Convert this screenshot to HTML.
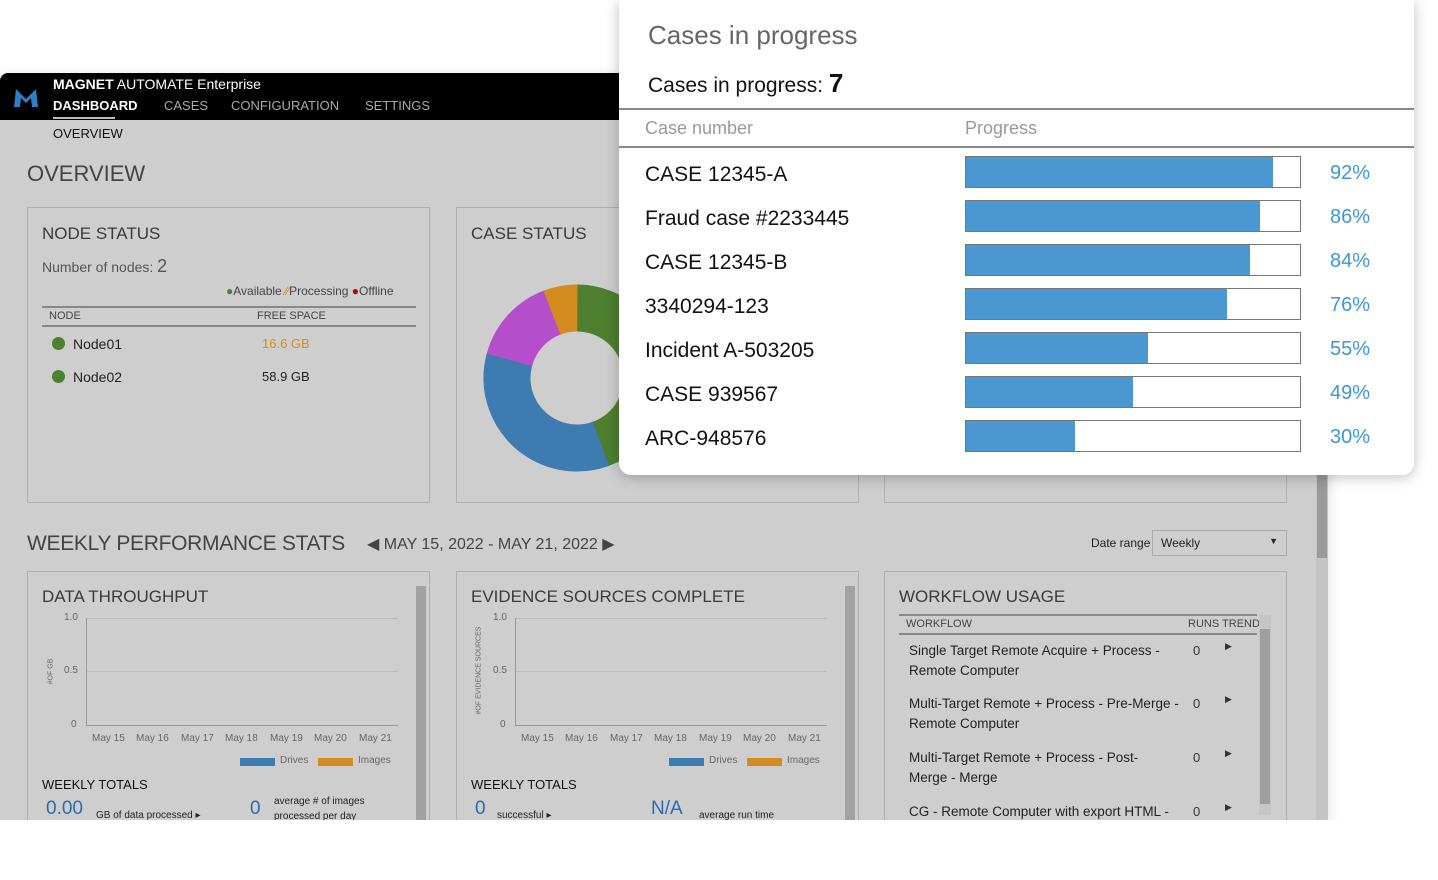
<!DOCTYPE html>
<html><head><meta charset="utf-8"><style>
*{box-sizing:border-box;margin:0;padding:0}
body{width:1438px;height:880px;background:#fff;position:relative;overflow:hidden;font-family:"Liberation Sans",sans-serif;color:#333}
.abs{position:absolute}
#win{position:absolute;left:0;top:73px;width:1328px;height:747px;background:#cecece;border-radius:8px 0 0 0;overflow:hidden;box-shadow:0 4px 14px rgba(0,0,0,.15)}
#hdr{position:absolute;left:0;top:0;width:1328px;height:47px;background:#000}
.panel{position:absolute;border:1px solid #b0b0b0;background:#cecece}
.ttl{position:absolute;font-size:17px;color:#3a3a3a}
.sm{font-size:11px;color:#444}
#pop{position:absolute;left:619px;top:0;width:795px;height:475px;background:#fff;border-radius:0 0 12px 12px;box-shadow:0 2px 14px rgba(0,0,0,.25)}
.row{position:absolute;left:26px;font-size:21px;color:#111}
.bar{position:absolute;left:346px;width:336px;height:32px;border:1.5px solid #777;background:#fff}
.bar i{display:block;height:100%;background:#4a97d2}
.pct{position:absolute;left:711px;font-size:20px;color:#3d97d6}
.ax{position:absolute;font-size:10px;color:#666}
.xl span{position:absolute;top:0;white-space:nowrap}
</style></head><body>
<div id="win">
 <div id="hdr">
  <svg class="abs" style="left:12px;top:12px" width="28" height="24"><path d="M2 22 L4 4 L14 14 L24 4 L26 22 L20 22 L19 13 L14 18 L9 13 L8 22Z" fill="#2f7fc4"/></svg>
  <div class="abs" style="left:53px;top:3px;color:#fff;font-size:14px"><b style="font-weight:600">MAGNET</b> AUTOMATE Enterprise</div>
  <div class="abs" style="left:53px;top:25px;color:#fff;font-size:13px;font-weight:bold">DASHBOARD</div>
  <div class="abs" style="left:53px;top:44px;width:62px;height:2px;background:#bbb"></div>
  <div class="abs" style="left:164px;top:25px;color:#aaa;font-size:13px">CASES</div>
  <div class="abs" style="left:231px;top:25px;color:#aaa;font-size:13px">CONFIGURATION</div>
  <div class="abs" style="left:365px;top:25px;color:#aaa;font-size:13px">SETTINGS</div>
 </div>
 <div class="abs" style="left:53px;top:53px;font-size:13px;color:#111">OVERVIEW</div>
 <div class="abs" style="left:27px;top:88px;font-size:22px;color:#444">OVERVIEW</div>
 <div class="abs" style="left:1316px;top:0;width:12px;height:747px;background:#c4c4c4"></div>
 <div class="abs" style="left:1317px;top:400px;width:10px;height:85px;background:#9a9a9a"></div>
</div>

<!-- node status -->
<div class="panel" style="left:27px;top:207px;width:403px;height:296px">
 <div class="ttl" style="left:14px;top:16px">NODE STATUS</div>
 <div class="abs" style="left:14px;top:48px;font-size:14px;color:#555">Number of nodes: <span style="font-size:18px">2</span></div>
 <div class="abs" style="left:198px;top:76px;font-size:12px;color:#444"><span style="color:#4f7f31">●</span>Available <span style="color:#d48b1f">⁄⁄</span>Processing <span style="color:#b00">●</span>Offline</div>
 <div class="abs" style="left:14px;top:98px;width:374px;height:2px;background:#888"></div>
 <div class="abs sm" style="left:21px;top:102px">NODE</div>
 <div class="abs sm" style="left:229px;top:102px">FREE SPACE</div>
 <div class="abs" style="left:14px;top:117px;width:374px;height:2px;background:#888"></div>
 <div class="abs" style="left:24px;top:129px;width:13px;height:13px;border-radius:50%;background:#4f7f31"></div>
 <div class="abs" style="left:45px;top:128px;font-size:14px;color:#222">Node01</div>
 <div class="abs" style="left:234px;top:128px;font-size:13px;color:#d48b1f">16.6 GB</div>
 <div class="abs" style="left:24px;top:162px;width:13px;height:13px;border-radius:50%;background:#4f7f31"></div>
 <div class="abs" style="left:45px;top:161px;font-size:14px;color:#222">Node02</div>
 <div class="abs" style="left:234px;top:161px;font-size:13px;color:#222">58.9 GB</div>
</div>
<!-- case status -->
<div class="panel" style="left:456px;top:207px;width:403px;height:296px">
 <div class="ttl" style="left:14px;top:16px">CASE STATUS</div>
 <svg class="abs" style="left:25px;top:75px" width="190" height="190" viewBox="-95 -95 190 190">
  <g fill="none" stroke-width="47">
   <circle r="70" stroke="#4e7f2f" stroke-dasharray="196 500" transform="rotate(-90)"/>
   <circle r="70" stroke="#3d7bb0" stroke-dasharray="153 500" transform="rotate(70)"/>
   <circle r="70" stroke="#b54ecb" stroke-dasharray="68 500" transform="rotate(195)"/>
   <circle r="70" stroke="#d48b1f" stroke-dasharray="26 500" transform="rotate(249)"/>
  </g>
 </svg>
</div>
<div class="panel" style="left:884px;top:207px;width:403px;height:296px"></div>

<!-- weekly -->
<div class="abs" style="left:27px;top:532px;font-size:21px;color:#444;letter-spacing:-0.3px">WEEKLY PERFORMANCE STATS</div>
<div class="abs" style="left:367px;top:534px;font-size:16px;color:#444">◀ MAY 15, 2022 - MAY 21, 2022 ▶</div>
<div class="abs" style="left:1091px;top:536px;font-size:12px;color:#222">Date range</div>
<div class="abs" style="left:1152px;top:530px;width:135px;height:26px;border:1px solid #aaa;font-size:12px;padding:5px 8px;color:#222">Weekly<span style="position:absolute;right:8px;top:5px;font-size:9px">▼</span></div>

<div class="panel" style="left:27px;top:571px;width:403px;height:260px;overflow:hidden">
 <div class="ttl" style="left:14px;top:15px">DATA THROUGHPUT</div>
 <div class="abs" style="left:388px;top:14px;width:10px;height:250px;background:#a2a2a2"></div>
 <div class="ax" style="left:36px;top:40px">1.0</div><div class="ax" style="left:36px;top:93px">0.5</div><div class="ax" style="left:43px;top:147px">0</div>
 <div class="abs" style="left:58px;top:46px;width:312px;height:1px;background:#bbb"></div>
 <div class="abs" style="left:58px;top:99px;width:312px;height:1px;background:#bbb"></div>
 <div class="abs" style="left:58px;top:153px;width:312px;height:1px;background:#999"></div>
 <div class="abs" style="left:58px;top:46px;width:1px;height:108px;background:#999"></div>
 <div class="ax" style="left:10px;top:96px;transform:rotate(-90deg);font-size:7px">#OF GB</div>
 <div class="ax xl" style="left:0;top:161px"><span style="left:64px">May 15</span><span style="left:108px">May 16</span><span style="left:153px">May 17</span><span style="left:197px">May 18</span><span style="left:242px">May 19</span><span style="left:286px">May 20</span><span style="left:331px">May 21</span></div>
 <div class="abs" style="left:212px;top:186px;width:35px;height:8px;background:#3d7bb0"></div><div class="ax" style="left:252px;top:183px">Drives</div>
 <div class="abs" style="left:290px;top:186px;width:35px;height:8px;background:#d48b1f"></div><div class="ax" style="left:330px;top:183px">Images</div>
 <div class="abs" style="left:14px;top:205px;font-size:13px;color:#111">WEEKLY TOTALS</div>
 <div class="abs" style="left:18px;top:226px;font-size:19px;color:#2a6cb0">0.00</div>
 <div class="abs" style="left:68px;top:238px;font-size:10px;color:#222">GB of data processed ▸</div>
 <div class="abs" style="left:222px;top:226px;font-size:19px;color:#2a6cb0">0</div>
 <div class="abs" style="left:246px;top:222px;font-size:10px;color:#222;line-height:15px">average # of images<br>processed per day</div>
</div>
<div class="panel" style="left:456px;top:571px;width:403px;height:260px;overflow:hidden">
 <div class="ttl" style="left:14px;top:15px">EVIDENCE SOURCES COMPLETE</div>
 <div class="abs" style="left:388px;top:14px;width:10px;height:250px;background:#a2a2a2"></div>
 <div class="ax" style="left:36px;top:40px">1.0</div><div class="ax" style="left:36px;top:93px">0.5</div><div class="ax" style="left:43px;top:147px">0</div>
 <div class="abs" style="left:58px;top:46px;width:312px;height:1px;background:#bbb"></div>
 <div class="abs" style="left:58px;top:99px;width:312px;height:1px;background:#bbb"></div>
 <div class="abs" style="left:58px;top:153px;width:312px;height:1px;background:#999"></div>
 <div class="abs" style="left:58px;top:46px;width:1px;height:108px;background:#999"></div>
 <div class="ax" style="left:-22px;top:95px;transform:rotate(-90deg);font-size:7px">#OF EVIDENCE SOURCES</div>
 <div class="ax xl" style="left:0;top:161px"><span style="left:64px">May 15</span><span style="left:108px">May 16</span><span style="left:153px">May 17</span><span style="left:197px">May 18</span><span style="left:242px">May 19</span><span style="left:286px">May 20</span><span style="left:331px">May 21</span></div>
 <div class="abs" style="left:212px;top:186px;width:35px;height:8px;background:#3d7bb0"></div><div class="ax" style="left:252px;top:183px">Drives</div>
 <div class="abs" style="left:290px;top:186px;width:35px;height:8px;background:#d48b1f"></div><div class="ax" style="left:330px;top:183px">Images</div>
 <div class="abs" style="left:14px;top:205px;font-size:13px;color:#111">WEEKLY TOTALS</div>
 <div class="abs" style="left:18px;top:226px;font-size:19px;color:#2a6cb0">0</div>
 <div class="abs" style="left:40px;top:238px;font-size:10px;color:#222">successful ▸</div>
 <div class="abs" style="left:194px;top:226px;font-size:19px;color:#2a6cb0">N/A</div>
 <div class="abs" style="left:242px;top:238px;font-size:10px;color:#222">average run time</div>
</div>
<div class="panel" style="left:884px;top:571px;width:403px;height:260px;overflow:hidden">
 <div class="ttl" style="left:14px;top:15px">WORKFLOW USAGE</div>
 <div class="abs" style="left:14px;top:42px;width:358px;height:2px;background:#888"></div>
 <div class="abs sm" style="left:21px;top:46px">WORKFLOW</div>
 <div class="abs sm" style="left:303px;top:46px">RUNS TREND</div>
 <div class="abs" style="left:14px;top:61px;width:358px;height:2px;background:#888"></div>
 <div class="abs" style="left:374px;top:43px;width:12px;height:200px;background:#c6c6c6"></div>
 <div class="abs" style="left:375px;top:57px;width:10px;height:175px;background:#9f9f9f"></div>
 <div class="abs" style="left:24px;top:69px;font-size:13.5px;line-height:20px;color:#222;width:270px">Single Target Remote Acquire + Process - Remote Computer</div>
 <div class="abs" style="left:24px;top:122px;font-size:13.5px;line-height:20px;color:#222;width:280px">Multi-Target Remote + Process - Pre-Merge - Remote Computer</div>
 <div class="abs" style="left:24px;top:176px;font-size:13.5px;line-height:20px;color:#222;width:250px">Multi-Target Remote + Process - Post-Merge - Merge</div>
 <div class="abs" style="left:24px;top:230px;font-size:13.5px;line-height:20px;color:#222;width:280px">CG - Remote Computer with export HTML -</div>
 <div class="abs" style="left:308px;top:71px;font-size:13px">0</div><div class="abs" style="left:308px;top:124px;font-size:13px">0</div><div class="abs" style="left:308px;top:178px;font-size:13px">0</div><div class="abs" style="left:308px;top:232px;font-size:13px">0</div>
 <div class="abs" style="left:340px;top:69px;font-size:9px">▶</div><div class="abs" style="left:340px;top:122px;font-size:9px">▶</div><div class="abs" style="left:340px;top:176px;font-size:9px">▶</div><div class="abs" style="left:340px;top:230px;font-size:9px">▶</div>
</div>
<div class="abs" style="left:0;top:820px;width:1438px;height:60px;background:#fff"></div>

<!-- popup -->
<div id="pop">
 <div class="abs" style="left:29px;top:20px;font-size:26px;color:#666">Cases in progress</div>
 <div class="abs" style="left:29px;top:68px;font-size:21px;color:#111">Cases in progress: <b style="font-size:26px">7</b></div>
 <div class="abs" style="left:0;top:108px;width:795px;height:2px;background:#888"></div>
 <div class="abs" style="left:26px;top:118px;font-size:18px;color:#999">Case number</div>
 <div class="abs" style="left:346px;top:118px;font-size:18px;color:#999">Progress</div>
 <div class="abs" style="left:0;top:146px;width:795px;height:2px;background:#888"></div>

 <div class="row" style="top:163px">CASE 12345-A</div><div class="bar" style="top:156px"><i style="width:92%"></i></div><div class="pct" style="top:162px">92%</div>
 <div class="row" style="top:207px">Fraud case #2233445</div><div class="bar" style="top:200px"><i style="width:88%"></i></div><div class="pct" style="top:206px">86%</div>
 <div class="row" style="top:251px">CASE 12345-B</div><div class="bar" style="top:244px"><i style="width:85%"></i></div><div class="pct" style="top:250px">84%</div>
 <div class="row" style="top:295px">3340294-123</div><div class="bar" style="top:288px"><i style="width:78%"></i></div><div class="pct" style="top:294px">76%</div>
 <div class="row" style="top:339px">Incident A-503205</div><div class="bar" style="top:332px"><i style="width:54.5%"></i></div><div class="pct" style="top:338px">55%</div>
 <div class="row" style="top:383px">CASE 939567</div><div class="bar" style="top:376px"><i style="width:50%"></i></div><div class="pct" style="top:382px">49%</div>
 <div class="row" style="top:427px">ARC-948576</div><div class="bar" style="top:420px"><i style="width:32.5%"></i></div><div class="pct" style="top:426px">30%</div>
</div>
</body></html>
